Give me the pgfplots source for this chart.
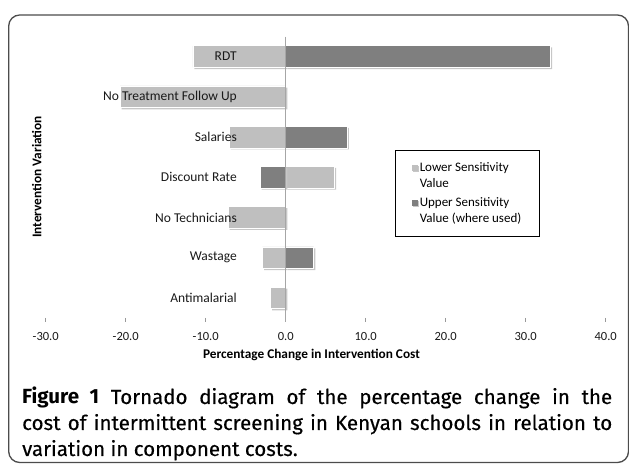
\documentclass[border=0pt]{standalone}
\usepackage{fontspec}
\setmainfont{Carlito}
\newfontfamily\capfont{Fira Sans}
\newfontfamily\capmed{Fira Sans}[FakeBold=0.4]
\usepackage{pgfplots}
\pgfplotsset{compat=1.18}
\definecolor{lightbar}{RGB}{191,191,191}
\definecolor{darkbar}{RGB}{127,127,127}
\tikzset{catlab/.style={anchor=east, inner sep=0pt, font=\fontsize{13.5}{15}\selectfont, text=black!90, xshift=-48.7pt},
  tk/.style={black!40, line width=0.8pt}}
\begin{document}
\begin{tikzpicture}[x=1pt,y=1pt]
\begin{axis}[
  name=ax,
  scale only axis, width=560pt, height=281.5pt,
  xmin=-30, xmax=40, ymin=-0.5, ymax=6.5,
  axis x line*=bottom, axis y line=none,
  axis line style={draw=none},
  xtick={-30,-20,-10,0,10,20,30,40},
  tick align=outside, major tick length=4pt,
  xtick style={draw=black!45, line width=0.8pt},
  xticklabel style={font=\fontsize{12.5}{14}\selectfont, text=black!90, yshift=-7pt},
  /pgf/number format/.cd, fixed, fixed zerofill, precision=1, assume math mode=true,
  /pgfplots/.cd,
  xbar, bar shift=0pt, bar width=0.54,
  every axis plot/.append style={draw=white, line width=0.6pt,
     preaction={fill=black!22, draw=none, transform canvas={xshift=1.6pt, yshift=-1.6pt}}},
  legend style={at={(rel axis cs:0.6246,0.597)}, anchor=north west,
     draw=black, line width=0.6pt, inner xsep=16pt, inner ysep=10pt,
     font=\fontsize{13}{16.5}\selectfont, row sep=4pt,
     cells={align=left, anchor=west}},
  legend cell align=left,
  legend image code/.code={\fill[#1, draw=none] (0pt,5pt) rectangle (6pt,11pt);},
  clip=false,
]
% Lower sensitivity value
\addplot[fill=lightbar] coordinates {
  (-11.6,6) (-20.7,5) (-7.05,4) (6.1,3) (-7.2,2) (-2.9,1) (-1.9,0)};
\addlegendentry{Lower Sensitivity\\Value}
% Upper sensitivity value
\addplot[fill=darkbar] coordinates {
  (33.1,6) (7.7,4) (-3.2,3) (3.5,1)};
\addlegendentry{Upper Sensitivity\\Value (where used)}
\draw[black!35, line width=0.6pt] (axis cs:0,6.5) -- ([yshift=-4pt]axis cs:0,-0.5);
\draw[tk] (axis cs:-30,-0.5) -- ([yshift=-4pt]axis cs:-30,-0.5);
\draw[tk] (axis cs:-20,-0.5) -- ([yshift=-4pt]axis cs:-20,-0.5);
\draw[tk] (axis cs:-10,-0.5) -- ([yshift=-4pt]axis cs:-10,-0.5);
\draw[tk] (axis cs:10,-0.5) -- ([yshift=-4pt]axis cs:10,-0.5);
\draw[tk] (axis cs:20,-0.5) -- ([yshift=-4pt]axis cs:20,-0.5);
\draw[tk] (axis cs:30,-0.5) -- ([yshift=-4pt]axis cs:30,-0.5);
\draw[tk] (axis cs:40,-0.5) -- ([yshift=-4pt]axis cs:40,-0.5);
\node[catlab] at (axis cs:0,6) {RDT};
\node[catlab] at (axis cs:0,5) {No Treatment Follow Up};
\node[catlab] at (axis cs:0,4) {Salaries};
\node[catlab] at (axis cs:0,3) {Discount Rate};
\node[catlab] at (axis cs:0,2) {No Technicians};
\node[catlab] at (axis cs:0,1) {Wastage};
\node[catlab] at (axis cs:0,0) {Antimalarial};
\coordinate (O) at (rel axis cs:0,0);
\end{axis}
\begin{scope}[shift={(O)}, xshift=-45.7pt, yshift=-147pt]
\useasboundingbox (0,0) rectangle (629,465);
\draw[line width=1.3pt, black!70, rounded corners=11pt] (8.7,2.5) rectangle (628.5,450);
\node[rotate=90, font=\bfseries\fontsize{13.3}{15}\selectfont] at (36.7,288) {Intervention Variation};
\node[font=\bfseries\fontsize{13.3}{15}\selectfont] at (311.5,110) {Percentage Change in Intervention Cost};
\node[anchor=base west, inner sep=0pt] at (22,61) {\parbox[t]{590pt}{\fontsize{20.5}{26}\selectfont\capmed\textbf{\capfont Figure 1} Tornado diagram of the percentage change in the\linebreak cost of intermittent screening in Kenyan schools in relation to\linebreak variation in component costs.}};
\end{scope}
\end{tikzpicture}
\end{document}
